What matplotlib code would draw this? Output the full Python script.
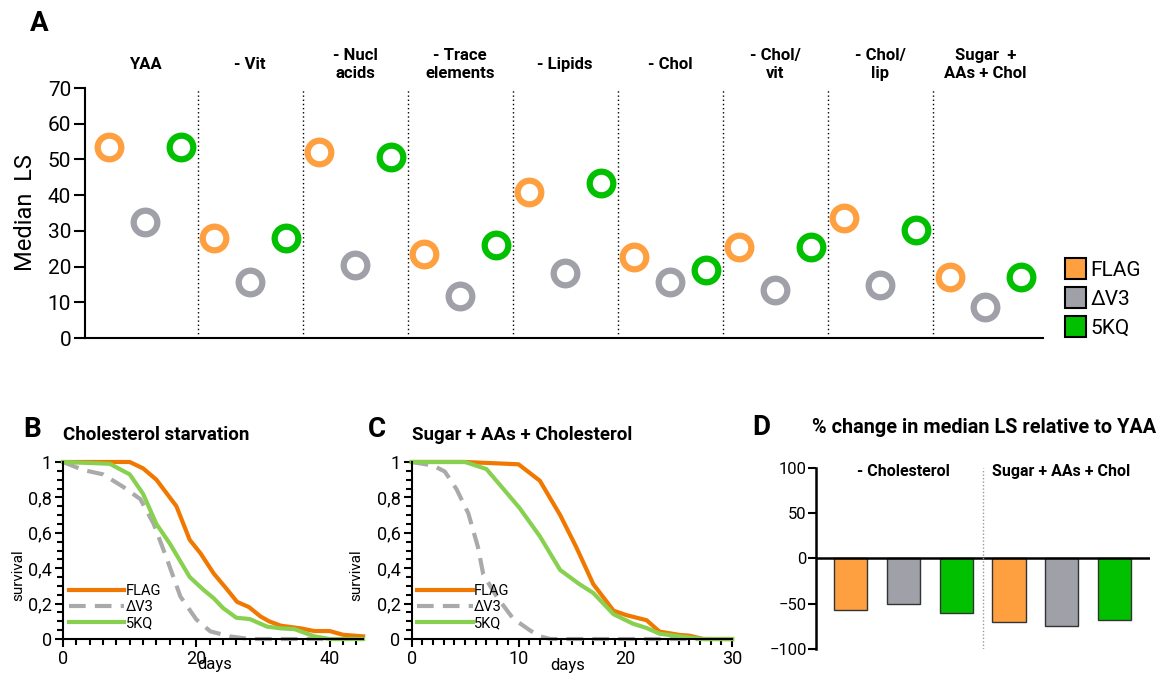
import matplotlib
matplotlib.use("Agg")
import matplotlib.pyplot as plt
from matplotlib.patches import Patch
from matplotlib.ticker import MultipleLocator, FuncFormatter

plt.rcParams['font.family'] = ['Roboto', 'DejaVu Sans']

# ---- data ----
groups = ["YAA", "- Vit", "- Nucl\nacids", "- Trace\nelements", "- Lipids",
          "- Chol", "- Chol/\nvit", "- Chol/\nlip", "Sugar  +\nAAs + Chol"]
strains = ["FLAG", "\u0394V3", "5KQ"]
flag_ls = [53.5, 28, 52, 23.5, 41, 22.7, 25.5, 33.6, 17]
dv3_ls = [32.5, 15.7, 20.4, 11.8, 18.2, 15.7, 13.4, 14.8, 8.7]
kq_ls = [53.5, 28, 50.7, 26, 43.4, 19, 25.5, 30.2, 17]

# survival curves, panel B (cholesterol starvation)
b_flag_days = [0, 10, 12, 14, 17, 19, 20.6, 22.6, 24.6, 26.1, 27.9, 29.6, 30.9, 32.7, 35.7, 37.7, 40, 42, 45]
b_flag_surv = [1, 1, 0.964, 0.90, 0.75, 0.56, 0.485, 0.37, 0.28, 0.21, 0.18, 0.128, 0.10, 0.075, 0.06, 0.045, 0.045, 0.024, 0.015]
b_dv3_days = [0, 3, 6, 9, 11.6, 13.6, 15.6, 17.6, 20, 22.1, 25, 28, 45]
b_dv3_surv = [1, 0.955, 0.93, 0.86, 0.79, 0.65, 0.45, 0.24, 0.11, 0.043, 0.015, 0, 0]
b_kq_days = [0, 7, 10, 12, 14, 16, 19, 21, 22.6, 24, 26, 28, 30.6, 32.7, 34.7, 37.7, 40, 45]
b_kq_surv = [1, 0.99, 0.93, 0.82, 0.65, 0.54, 0.35, 0.28, 0.23, 0.175, 0.12, 0.113, 0.07, 0.06, 0.056, 0.015, 0, 0]

# panel C (sugar + AAs + cholesterol)
c_flag_days = [0, 5, 10, 12, 13.9, 15.4, 17, 18.9, 20.1, 22, 23.2, 25.1, 26, 27.3, 30]
c_flag_surv = [1, 1, 0.987, 0.894, 0.70, 0.52, 0.31, 0.16, 0.135, 0.106, 0.042, 0.023, 0.019, 0, 0]
c_dv3_days = [0, 2, 3.1, 4.2, 5.3, 6.2, 6.7, 7.95, 9.5, 11.1, 12, 13, 30]
c_dv3_surv = [1, 0.98, 0.946, 0.846, 0.71, 0.52, 0.365, 0.24, 0.115, 0.048, 0.015, 0, 0]
c_kq_days = [0, 5, 7, 10.1, 12, 13.9, 15.7, 17, 18.9, 20.7, 22, 23.2, 25.1, 27.3, 30]
c_kq_surv = [1, 1, 0.96, 0.74, 0.58, 0.39, 0.31, 0.26, 0.14, 0.087, 0.062, 0.03, 0.015, 0, 0]

# panel D: % change relative to YAA
d_groups = ["- Cholesterol", "Sugar + AAs + Chol"]
d_flag = [-57, -70]
d_dv3 = [-50, -75]
d_kq = [-60, -68]

col_flag = "#FFA040"
col_dv3 = "#A0A0A8"
col_kq = "#00C000"
line_flag = "#F07800"
line_dv3 = "#AAAAAA"
line_kq = "#88D050"

fig = plt.figure(figsize=(11.63, 6.77), dpi=100)

# ---- panel A ----
axA = fig.add_axes([0.0731, 0.5007, 0.8237, 0.3693])
xs = range(len(groups))
offs = [-0.34, 0, 0.34]
for vals, col, off in zip([flag_ls, dv3_ls, kq_ls], [col_flag, col_dv3, col_kq], offs):
    axA.plot([x + off for x in xs], vals, linestyle='none', marker='o', markersize=17,
             markerfacecolor='none', markeredgecolor=col, markeredgewidth=4.5, clip_on=False)
for i in range(len(groups) - 1):
    axA.plot([i + 0.5, i + 0.5], [0, 70], color='black', linestyle=(0, (1, 2)), lw=1)
for i, g in enumerate(groups):
    axA.text(i, 76.5, g, ha='center', va='center', fontsize=12, fontweight='bold', linespacing=1.25)
axA.set_xlim(-0.571, 8.55)
axA.set_ylim(0, 70)
axA.set_yticks(range(0, 71, 10))
axA.set_xticks([])
axA.tick_params(axis='y', labelsize=15, length=8, width=1.5, pad=2)
for s in ['top', 'right']:
    axA.spines[s].set_visible(False)
axA.spines['left'].set_linewidth(1.5)
axA.spines['bottom'].set_linewidth(1.5)
axA.set_ylabel("Median  LS", fontsize=17, labelpad=8)
handles = [Patch(facecolor=c, edgecolor='black', linewidth=1.5) for c in [col_flag, col_dv3, col_kq]]
fig.legend(handles, strains, loc='center left', bbox_to_anchor=(0.9, 0.56), frameon=False,
           fontsize=15, handlelength=1.0, handleheight=1.2, handletextpad=0.2, labelspacing=0.35)
fig.text(0.026, 0.965, "A", fontsize=20, fontweight='bold', va='center')

# ---- panels B and C ----
fmt = FuncFormatter(lambda v, p: ("%g" % v).replace('.', ','))


def survival_panel(rect, curves, xmax, xmajor, xminor, title, letter, letter_x, ylab_x, days_xy):
    ax = fig.add_axes(rect)
    (fd, fs), (dd, ds), (kd, ks) = curves
    ax.plot(fd, fs, color=line_flag, lw=3, label="FLAG", clip_on=False)
    ax.plot(dd, ds, color=line_dv3, lw=3, linestyle=(0, (4, 2.2)), label="\u0394V3", clip_on=False)
    ax.plot(kd, ks, color=line_kq, lw=3, label="5KQ", clip_on=False)
    ax.set_xlim(0, xmax)
    ax.set_ylim(0, 1)
    ax.xaxis.set_major_locator(MultipleLocator(xmajor))
    ax.xaxis.set_minor_locator(MultipleLocator(xminor))
    ax.yaxis.set_major_locator(MultipleLocator(0.2))
    ax.yaxis.set_minor_locator(MultipleLocator(0.05))
    ax.yaxis.set_major_formatter(fmt)
    ax.tick_params(which='major', labelsize=13, length=6, width=1.5, pad=2)
    ax.tick_params(which='minor', length=4, width=1.5)
    for s in ['top', 'right']:
        ax.spines[s].set_visible(False)
    ax.spines['left'].set_linewidth(1.5)
    ax.spines['bottom'].set_linewidth(1.5)
    ax.set_ylabel("survival", fontsize=11)
    ax.yaxis.set_label_coords(ylab_x, 0.36)
    ax.set_xlabel("days", fontsize=12)
    ax.xaxis.set_label_coords(*days_xy)
    ax.legend(loc='lower left', bbox_to_anchor=(-0.01, 0.0), frameon=False, fontsize=10.5,
              handlelength=3.8, handletextpad=0.1, labelspacing=0.15, borderaxespad=0.2)
    ax.text(0.0, 1.1, title, transform=ax.transAxes, fontsize=13.5, fontweight='bold', va='bottom')
    fig.text(letter_x, 0.366, letter, fontsize=20, fontweight='bold', va='center')
    return ax


survival_panel([0.0542, 0.0561, 0.258, 0.2615],
               [(b_flag_days, b_flag_surv), (b_dv3_days, b_dv3_surv), (b_kq_days, b_kq_surv)],
               45, 20, 2, "Cholesterol starvation", "B", 0.02, -0.127, (0.507, -0.10))
survival_panel([0.354, 0.0561, 0.2755, 0.2615],
               [(c_flag_days, c_flag_surv), (c_dv3_days, c_dv3_surv), (c_kq_days, c_kq_surv)],
               30, 10, 1, "Sugar + AAs + Cholesterol", "C", 0.316, -0.152, (0.488, -0.11))

# ---- panel D ----
axD = fig.add_axes([0.702, 0.0414, 0.287, 0.2673])
pos = [0, 3]
for k, (vals, col) in enumerate(zip([d_flag, d_dv3, d_kq], [col_flag, col_dv3, col_kq])):
    axD.bar([p + k for p in pos], vals, width=0.63, color=col, edgecolor='#333333', linewidth=1)
axD.axhline(0, color='black', lw=1.8)
axD.plot([2.5, 2.5], [-100, 100], color='#999999', linestyle=(0, (1, 1.5)), lw=1)
for p, g in zip(pos, d_groups):
    axD.text(p + 1, 96, g, ha='center', va='center', fontsize=11.5, fontweight='bold')
axD.set_xlim(-0.65, 5.68)
axD.set_ylim(-100, 100)
axD.set_yticks([-100, -50, 0, 50, 100])
axD.set_xticks([])
axD.tick_params(axis='y', labelsize=12, length=6, width=1.5, pad=1)
for s in ['top', 'right', 'bottom']:
    axD.spines[s].set_visible(False)
axD.spines['left'].set_linewidth(1.8)
fig.text(0.647, 0.368, "D", fontsize=20, fontweight='bold', va='center')
fig.text(0.846, 0.369, "% change in median LS relative to YAA", fontsize=14.3, fontweight='bold',
         ha='center', va='center')

fig.savefig("out.png", dpi=100)
